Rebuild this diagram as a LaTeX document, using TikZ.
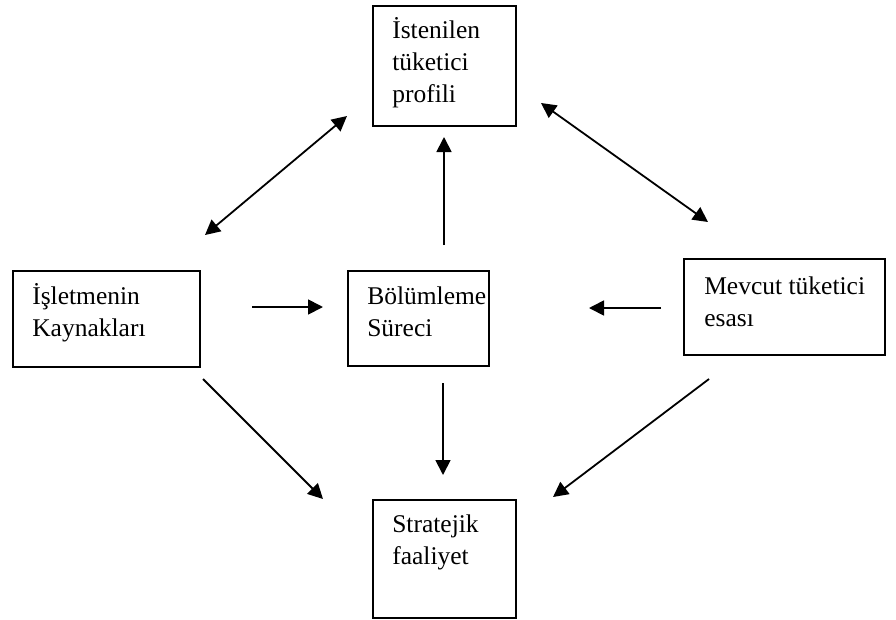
\documentclass[tikz,border=0pt]{standalone}
\usepackage{fontspec}
\setmainfont{Liberation Serif}
\usetikzlibrary{arrows.meta}
\begin{document}
\begin{tikzpicture}[x=1pt,y=-1pt,
  box/.style={draw=black,line width=1.8pt,rectangle,inner sep=0pt},
  label text/.style={anchor=base west,inner sep=0pt,align=left,
    font=\fontsize{25.5}{32}\selectfont},
  head/.style={Triangle[length=15pt,width=15pt]},
  link/.style={line width=1.8pt,-{Triangle[length=15pt,width=15pt]}},
  both/.style={line width=1.8pt,{Triangle[length=15pt,width=15pt]}-{Triangle[length=15pt,width=15pt]}}]
\useasboundingbox (0,0) rectangle (896,619);

% boxes
\node[box,minimum width=143pt,minimum height=120pt] (profil) at (444.5,66) {};
\node[box,minimum width=187pt,minimum height=96pt] (kaynak) at (106.5,319) {};
\node[box,minimum width=141pt,minimum height=95pt] (surec) at (418.5,318.5) {};
\node[box,minimum width=201pt,minimum height=96pt] (mevcut) at (784.5,307) {};
\node[box,minimum width=143pt,minimum height=118pt] (strateji) at (444.5,559) {};

% box texts (the base anchor sits on the last line)
\node[label text] (t1) at ([shift={(20,97)}]profil.north west) {İstenilen\\tüketici\\profili};
\node[label text] (t2) at ([shift={(20,66)}]kaynak.north west) {İşletmenin\\Kaynakları};
\node[label text] (t3) at ([shift={(20,66)}]surec.north west) {Bölümleme\\Süreci};
\node[label text] (t4) at ([shift={(21,68)}]mevcut.north west) {Mevcut tüketici\\esası};
\node[label text] (t5) at ([shift={(20,65)}]strateji.north west) {Stratejik\\faaliyet};

% arrow end points
\coordinate (a1s) at (347,116);  \coordinate (a1e) at (205,235);
\coordinate (a2s) at (541,103);  \coordinate (a2e) at (708,222);
\coordinate (ups) at (444,245);  \coordinate (upe) at (444,137);
\coordinate (rs) at (252,307);   \coordinate (re) at (323,307);
\coordinate (ls) at (661,308);   \coordinate (le) at (589,308);
\coordinate (ds) at (443,383);   \coordinate (de) at (443,475);
\coordinate (d1s) at (203,379);  \coordinate (d1e) at (323,499);
\coordinate (d2s) at (709,379);  \coordinate (d2e) at (553,497);

% connectors
\draw[both] (a1s) -- (a1e);
\draw[both] (a2s) -- (a2e);
\draw[link] (ups) -- (upe);
\draw[link] (rs) -- (re);
\draw[link] (ls) -- (le);
\draw[link] (ds) -- (de);
\draw[link] (d1s) -- (d1e);
\draw[link] (d2s) -- (d2e);
\end{tikzpicture}
\end{document}
